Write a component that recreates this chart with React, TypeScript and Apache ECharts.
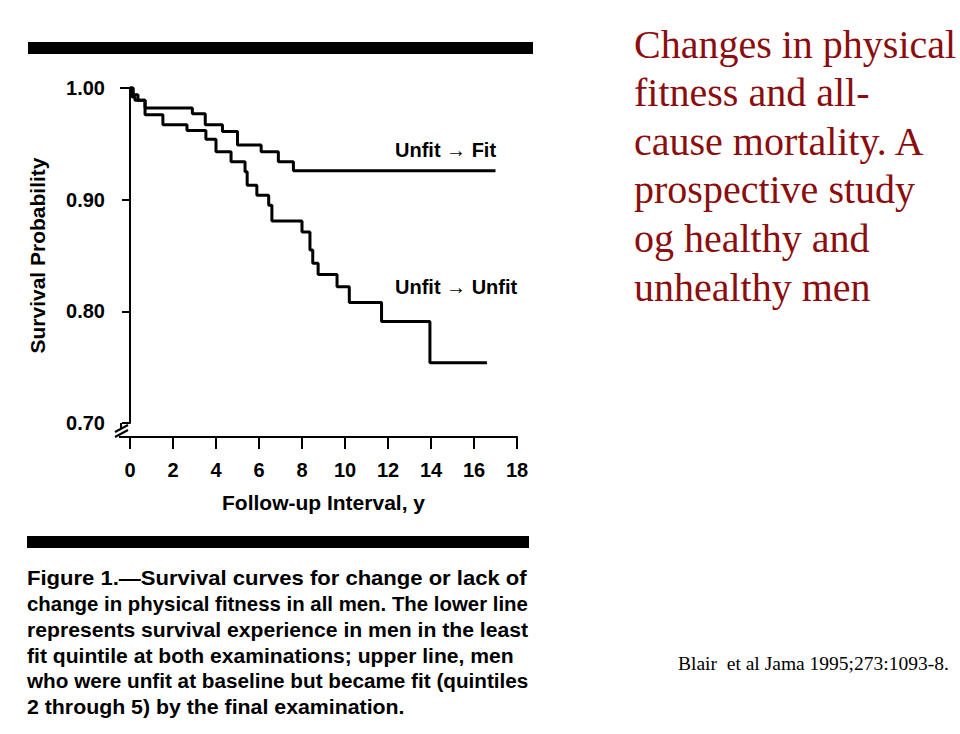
import React, { useEffect, useRef } from "react";
import * as echarts from "echarts";

// Kaplan–Meier step data (time in years, survival probability)
const fitTimes = [0, 0.15, 0.37, 0.7, 2.9, 3.5, 4.3, 5.0, 6.1, 6.9, 7.6, 17.0];
const fitSurv = [1.0, 0.994, 0.989, 0.982, 0.977, 0.967, 0.961, 0.949, 0.943, 0.934, 0.926, 0.926];

const unfitTimes = [0, 0.1, 0.23, 0.7, 1.53, 2.65, 3.53, 4.0, 4.7, 5.35, 5.45, 5.9, 6.45, 6.6, 8.0, 8.37, 8.5, 8.75, 9.63, 10.2, 11.7, 13.95, 16.6];
const unfitSurv = [1.0, 0.992, 0.989, 0.976, 0.967, 0.962, 0.954, 0.943, 0.934, 0.925, 0.913, 0.904, 0.895, 0.881, 0.871, 0.855, 0.843, 0.833, 0.822, 0.808, 0.791, 0.754, 0.754];

const seriesNames = ["Unfit \u2192 Fit", "Unfit \u2192 Unfit"];
const yAxisTitle = "Survival Probability";
const xAxisTitle = "Follow-up Interval, y";

const captionLines = [
  "Figure 1.\u2014Survival curves for change or lack of",
  "change in physical fitness in all men. The lower line",
  "represents survival experience in men in the least",
  "fit quintile at both examinations; upper line, men",
  "who were unfit at baseline but became fit (quintiles",
  "2 through 5) by the final examination.",
];
// horizontal stretch per caption line (justified text in the original)
const captionStretch = [1.05, 0.972, 1.008, 1.006, 0.986, 1.015];

const titleLines = [
  "Changes in physical",
  "fitness and all-",
  "cause mortality. A",
  "prospective study",
  "og healthy and",
  "unhealthy men",
];

const citation = "Blair  et al Jama 1995;273:1093-8.";

const SANS = "'Liberation Sans', Arial, Helvetica, sans-serif";
const SERIF = "'Liberation Serif', 'Times New Roman', serif";

export default function App() {
  const ref = useRef<HTMLDivElement>(null);

  useEffect(() => {
    if (!ref.current) return;
    const chart = echarts.init(ref.current, undefined, { renderer: "svg" });

    const fitData = fitTimes.map((t, i) => [t, fitSurv[i]]);
    const unfitData = unfitTimes.map((t, i) => [t, unfitSurv[i]]);

    const graphics: any[] = [
      { type: "rect", shape: { x: 28, y: 42, width: 505, height: 12 }, style: { fill: "#000" } },
      { type: "rect", shape: { x: 27, y: 536, width: 502, height: 12 }, style: { fill: "#000" } },
      // top hook of the y axis
      { type: "line", shape: { x1: 120, y1: 88, x2: 129, y2: 88 }, style: { stroke: "#000", lineWidth: 2 } },
      // axis break mark
      { type: "line", shape: { x1: 121, y1: 423, x2: 121, y2: 428 }, style: { stroke: "#000", lineWidth: 2 } },
      { type: "line", shape: { x1: 115, y1: 432, x2: 128, y2: 425 }, style: { stroke: "#000", lineWidth: 2 } },
      { type: "line", shape: { x1: 115, y1: 437, x2: 128, y2: 430 }, style: { stroke: "#000", lineWidth: 2 } },
      { type: "line", shape: { x1: 119, y1: 437, x2: 131, y2: 437 }, style: { stroke: "#000", lineWidth: 2 } },
      {
        type: "text", x: 395, y: 150,
        style: { text: seriesNames[0], font: `bold 20px ${SANS}`, fill: "#000", verticalAlign: "middle" },
      },
      {
        type: "text", x: 395, y: 287,
        style: { text: seriesNames[1], font: `bold 20px ${SANS}`, fill: "#000", verticalAlign: "middle" },
      },
    ];

    captionLines.forEach((line, i) => {
      graphics.push({
        type: "text", x: 27, y: 578 + i * 25.7, scaleX: captionStretch[i],
        style: { text: line, font: `bold 21px ${SANS}`, fill: "#000", verticalAlign: "middle" },
      });
    });

    titleLines.forEach((line, i) => {
      graphics.push({
        type: "text", x: 634, y: 44 + i * 48.6,
        style: { text: line, font: `40px ${SERIF}`, fill: "#8b0d0d", verticalAlign: "middle" },
      });
    });

    graphics.push({
      type: "text", x: 678, y: 663,
      style: { text: citation, font: `19.5px ${SERIF}`, fill: "#000", verticalAlign: "middle" },
    });

    chart.setOption({
      animation: false,
      backgroundColor: "#fff",
      grid: { left: 130, right: 443, top: 88, bottom: 311, containLabel: false },
      xAxis: {
        type: "value",
        min: 0,
        max: 18,
        interval: 2,
        offset: 14,
        name: xAxisTitle,
        nameLocation: "middle",
        nameGap: 55,
        nameTextStyle: { fontFamily: SANS, fontSize: 21, fontWeight: "bold", color: "#000", verticalAlign: "top" },
        axisLine: { show: true, lineStyle: { color: "#000", width: 2 } },
        axisTick: { show: true, inside: false, length: 12, lineStyle: { color: "#000", width: 2 } },
        axisLabel: { margin: 23, fontFamily: SANS, fontSize: 20, fontWeight: "bold", color: "#000" },
        splitLine: { show: false },
      },
      yAxis: {
        type: "value",
        min: 0.7,
        max: 1.0,
        interval: 0.1,
        offset: 9,
        name: yAxisTitle,
        nameLocation: "middle",
        nameGap: 84,
        nameRotate: 90,
        nameTextStyle: { fontFamily: SANS, fontSize: 21, fontWeight: "bold", color: "#000", verticalAlign: "middle" },
        axisLine: { show: true, lineStyle: { color: "#000", width: 2 } },
        axisTick: { show: true, inside: false, length: 8, lineStyle: { color: "#000", width: 2 } },
        axisLabel: {
          margin: 16, fontFamily: SANS, fontSize: 20, fontWeight: "bold", color: "#000",
          formatter: (v: number) => v.toFixed(2),
        },
        splitLine: { show: false },
      },
      series: [
        {
          name: seriesNames[0],
          type: "line",
          step: "end",
          data: fitData,
          showSymbol: false,
          lineStyle: { color: "#000", width: 3 },
          clip: false,
        },
        {
          name: seriesNames[1],
          type: "line",
          step: "end",
          data: unfitData,
          showSymbol: false,
          lineStyle: { color: "#000", width: 3 },
          clip: false,
        },
      ],
      graphic: graphics,
    });

    return () => chart.dispose();
  }, []);

  return (
    <div
      ref={ref}
      style={{ position: "fixed", left: 0, top: 0, width: 960, height: 734, background: "#fff" }}
    />
  );
}
